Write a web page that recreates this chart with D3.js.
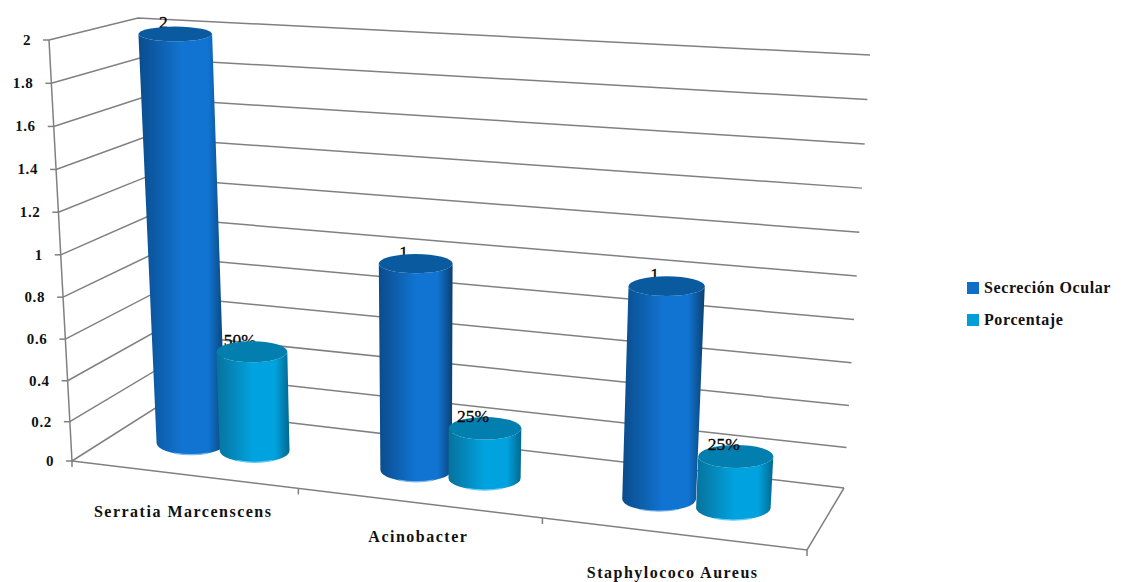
<!DOCTYPE html>
<html>
<head>
<meta charset="utf-8">
<title>Secreción Ocular</title>
<script src="https://cdn.jsdelivr.net/npm/d3@7"></script>
<style>
  html, body { margin: 0; padding: 0; background: #fff; }
  text { font-family: "Liberation Serif", serif; font-weight: bold; fill: #111; }
</style>
</head>
<body>
<div id="viz"></div>
<script>
// The chart data.
var categories = ["Serratia Marcenscens", "Acinobacter", "Staphylococo Aureus"];
var seriesNames = ["Secreción Ocular", "Porcentaje"];
var secrecionOcular = [2, 1, 1];
var porcentaje = [0.5, 0.25, 0.25];
var valueTicks = [0, 0.2, 0.4, 0.6, 0.8, 1, 1.2, 1.4, 1.6, 1.8, 2];

var width = 1126, height = 582;

// Corners of the 3D box, as they land on screen.
var box = {
  bottomFrontLeft: [72, 461], bottomFrontRight: [807, 550],
  bottomBackLeft: [157, 407], bottomBackRight: [844, 488],
  topFrontLeft: [49, 40], topFrontRight: [834, 95],
  topBackLeft: [138, 18], topBackRight: [870, 55]
};

var lerp = function (a, b, t) {
  return [a[0] + (b[0] - a[0]) * t, a[1] + (b[1] - a[1]) * t];
};

// across: 0..1 left to right, up: 0..1 floor to top, depth: 0 front, 1 back
var project = function (across, up, depth) {
  var floor = lerp(
    lerp(box.bottomFrontLeft, box.bottomFrontRight, across),
    lerp(box.bottomBackLeft, box.bottomBackRight, across), depth);
  var ceiling = lerp(
    lerp(box.topFrontLeft, box.topFrontRight, across),
    lerp(box.topBackLeft, box.topBackRight, across), depth);
  return lerp(floor, ceiling, up);
};

// Scales: the categories get wider towards the viewer on the right side.
var across = d3.scaleLinear().domain([0, 1, 2, 3]).range([0, 0.308, 0.64, 1]);
var up = d3.scalePow().exponent(1.03).domain([0, 2]).range([0, 1]);
var flatness = d3.scaleLinear().domain([0, height]).range([7, 12.8]);
var halfWidth = d3.scaleLinear().domain([0, 3]).range([0.048, 0.053]);

var colors = d3.scaleOrdinal().domain(seriesNames).range(["#0f6fc6", "#009dd9"]);
var shades = {
  "Secreción Ocular": { edgeL: "#0a4c8c", mid: "#1174d2", edgeR: "#0a3f70", top: "#0a5a9f", rim: "#7db8ee" },
  "Porcentaje": { edgeL: "#07729c", mid: "#00a3e0", edgeR: "#00688f", top: "#027fae", rim: "#66cdf2" }
};

var svg = d3.select("#viz").append("svg")
  .attr("width", width)
  .attr("height", height)
  .style("display", "block");

// Side shading of the cylinders.
var defs = svg.append("defs");
seriesNames.forEach(function (name, s) {
  var grad = defs.append("linearGradient").attr("id", "side" + s);
  [[0, shades[name].edgeL], [0.5, shades[name].mid], [0.8, shades[name].mid], [1, shades[name].edgeR]]
    .forEach(function (stop) {
      grad.append("stop").attr("offset", stop[0]).attr("stop-color", stop[1]);
    });
});

// Walls and floor
var grid = svg.append("g")
  .attr("fill", "none")
  .attr("stroke", "#808080")
  .attr("stroke-width", 1.5);

var line = d3.line();

grid.selectAll("path.gridline")
  .data(valueTicks)
  .enter().append("path")
  .attr("class", "gridline")
  .attr("d", function (v) {
    return line([project(0, up(v), 0), project(0, up(v), 1), project(1, up(v), 1)]);
  });

// left edge of the value axis, with its ticks
grid.append("path").attr("d", line([project(0, 1, 0), project(0, 0, 0)]));
grid.selectAll("path.ytick")
  .data(valueTicks)
  .enter().append("path")
  .attr("class", "ytick")
  .attr("d", function (v) {
    var p = project(0, up(v), 0);
    return line([[p[0] - 6, p[1]], p]);
  });

// floor front and right edges, with category ticks
grid.append("path").attr("d", line([project(0, 0, 0), project(1, 0, 0), project(1, 0, 1)]));
grid.selectAll("path.xtick")
  .data([0, 1, 2, 3])
  .enter().append("path")
  .attr("class", "xtick")
  .attr("d", function (i) {
    var p = project(across(i), 0, 0);
    return line([p, [p[0], p[1] + 6]]);
  });

// Value axis labels
svg.append("g").selectAll("text")
  .data(valueTicks)
  .enter().append("text")
  .attr("x", function (v) { return project(0, up(v), 0)[0] - 18; })
  .attr("y", function (v) { return project(0, up(v), 0)[1] + 5; })
  .attr("text-anchor", "end")
  .style("font-size", "15px")
  .style("letter-spacing", "0.6px")
  .text(function (v) { return String(v); });

// Category labels sit lower or higher depending on the band, as the axis staggers them.
var labelDrop = [42, 39, 44];

svg.append("g").selectAll("text")
  .data(categories)
  .enter().append("text")
  .attr("x", function (d, i) { return project(across(i + 0.5), 0, 0)[0] - 2; })
  .attr("y", function (d, i) { return project(across(i + 0.5), 0, 0)[1] + labelDrop[i]; })
  .attr("text-anchor", "middle")
  .style("font-size", "16px")
  .style("letter-spacing", "1.5px")
  .text(function (d) { return d; });

// One record per cylinder, blue before light blue so the second overlaps the first.
var bars = [];
categories.forEach(function (c, i) {
  bars.push({ name: seriesNames[0], s: 0, i: i, value: secrecionOcular[i], at: i + 0.35 });
  bars.push({ name: seriesNames[1], s: 1, i: i, value: porcentaje[i], at: i + 0.64 });
});

bars.forEach(function (b) {
  var a = across(b.at);
  var half = halfWidth(b.at);
  b.base = project(a, 0, 0.5);
  b.top = project(a, up(b.value), 0.5);
  b.rxBase = (project(a + half, 0, 0.5)[0] - project(a - half, 0, 0.5)[0]) / 2;
  b.rxTop = (project(a + half, up(b.value), 0.5)[0] - project(a - half, up(b.value), 0.5)[0]) / 2;
  b.ryBase = flatness(b.base[1]);
  b.ryTop = flatness(b.top[1]);
  b.label = b.s === 0 ? String(b.value) : d3.format(".0%")(b.value);
});

var drawLabel = function (sel) {
  sel.append("text")
    .attr("x", function (b) { return b.top[0] - 12; })
    .attr("y", function (b) { return b.top[1] - 6; })
    .attr("text-anchor", "middle")
    .style("font-size", "17.5px")
    .style("font-weight", "normal")
    .style("fill", "#000")
    .style("stroke", "#000")
    .style("stroke-width", 0.3)
    .text(function (b) { return b.label; });
};

// The taller cylinders hide the foot of their labels, the short ones do not.
drawLabel(svg.append("g").selectAll("text")
  .data(bars.filter(function (b) { return b.value > 0.25; }))
  .enter());

var cylinders = svg.append("g").selectAll("g")
  .data(bars)
  .enter().append("g");

cylinders.append("path")
  .attr("fill", function (b) { return "url(#side" + b.s + ")"; })
  .attr("d", function (b) {
    return "M" + (b.top[0] - b.rxTop) + "," + b.top[1] +
      "L" + (b.base[0] - b.rxBase) + "," + b.base[1] +
      "A" + b.rxBase + "," + b.ryBase + " 0 0 0 " + (b.base[0] + b.rxBase) + "," + b.base[1] +
      "L" + (b.top[0] + b.rxTop) + "," + b.top[1] +
      "A" + b.rxTop + "," + b.ryTop + " 0 0 1 " + (b.top[0] - b.rxTop) + "," + b.top[1] + "Z";
  });

// light rim along the foot
cylinders.append("path")
  .attr("fill", "none")
  .attr("stroke", function (b) { return shades[b.name].rim; })
  .attr("stroke-width", 1.2)
  .attr("d", function (b) {
    return "M" + (b.base[0] - b.rxBase * 0.5) + "," + (b.base[1] + b.ryBase * 0.866) +
      "A" + b.rxBase + "," + b.ryBase + " 0 0 0 " + (b.base[0] + b.rxBase * 0.5) + "," + (b.base[1] + b.ryBase * 0.866);
  });

cylinders.append("ellipse")
  .attr("cx", function (b) { return b.top[0]; })
  .attr("cy", function (b) { return b.top[1]; })
  .attr("rx", function (b) { return b.rxTop; })
  .attr("ry", function (b) { return b.ryTop; })
  .attr("fill", function (b) { return shades[b.name].top; });

drawLabel(svg.append("g").selectAll("text")
  .data(bars.filter(function (b) { return b.value <= 0.25; }))
  .enter());

// Legend
var legend = svg.append("g").selectAll("g")
  .data(seriesNames)
  .enter().append("g")
  .attr("transform", function (d, i) { return "translate(967," + (282 + i * 32) + ")"; });

legend.append("rect")
  .attr("width", 12)
  .attr("height", 12)
  .attr("fill", function (d) { return colors(d); });

legend.append("text")
  .attr("x", 17)
  .attr("y", 11)
  .style("font-size", "16px")
  .style("letter-spacing", "0.6px")
  .text(function (d) { return d; });
</script>
</body>
</html>
